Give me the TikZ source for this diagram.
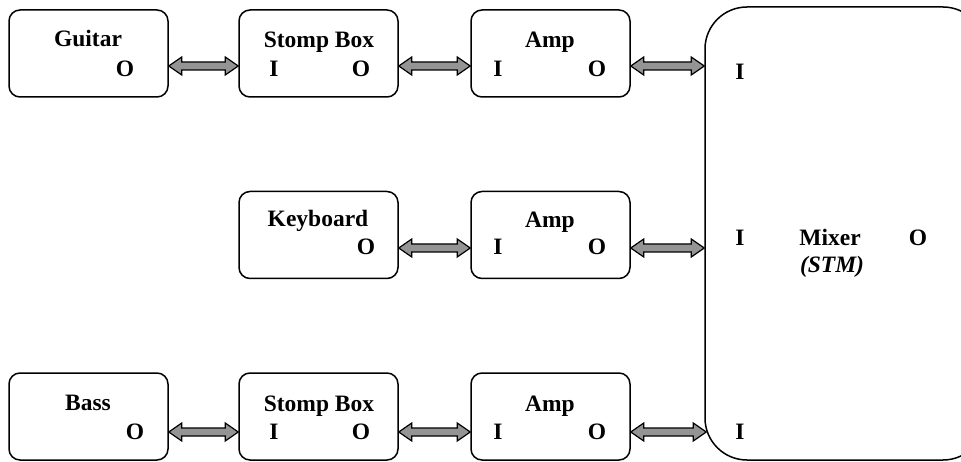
\documentclass[tikz,border=0pt]{standalone}
\usepackage{fontspec}
\setmainfont{Liberation Serif}
\usetikzlibrary{calc}
\tikzset{
  box/.style={draw, line width=1.5pt, rounded corners=11pt, minimum width=159pt, minimum height=87pt, inner sep=0pt},
  mixerbox/.style={draw, line width=1.5pt, rounded corners=42pt, minimum width=280pt, minimum height=453pt, inner sep=0pt},
  lbl/.style={font=\fontsize{23.5}{27}\selectfont\bfseries, inner sep=0pt, anchor=base},
  ilbl/.style={font=\fontsize{23.5}{27}\selectfont\bfseries\itshape, inner sep=0pt, anchor=base},
  fatarr/.style={draw=black, fill=black!42, line width=1.2pt, line join=miter}
}
\newcommand\fatarrow[2]{\draw[fatarr] (#1) -- ++(13,-9) -- ++(0,5) -- ($(#2)+(-13,-4)$) -- ++(0,-5) -- (#2) -- ++(-13,9) -- ++(0,-5) -- ($(#1)+(13,4)$) -- ++(0,5) -- cycle;}
\begin{document}
\begin{tikzpicture}[x=1pt,y=-1pt]
\useasboundingbox (0,0) rectangle (961,462);
\clip (0,0) rectangle (961,462);
% rows
\coordinate (r1) at (0,66);
\coordinate (r2) at (0,248);
\coordinate (r3) at (0,432);
% boxes
\node[box] (guitar) at (88.5,53.5) {};
\node[box] (stompA) at (318.5,53.5) {};
\node[box] (ampA) at (550.5,53.5) {};
\node[box] (keyboard) at (318.5,235) {};
\node[box] (ampB) at (550.5,235) {};
\node[box] (bass) at (88.5,416.5) {};
\node[box] (stompB) at (318.5,416.5) {};
\node[box] (ampC) at (550.5,416.5) {};
\node[mixerbox] (mixer) at (845,233.5) {};
% labels top row
\node[lbl] (tGuitar) at (88,47) {Guitar};
\node[lbl] (tGuitarO) at (125,77) {O};
\node[lbl] (tStompA) at (319,48) {Stomp Box};
\node[lbl] (tStompAI) at (274,77) {I};
\node[lbl] (tStompAO) at (361,77) {O};
\node[lbl] (tAmpA) at (550,48) {Amp};
\node[lbl] (tAmpAI) at (498,77) {I};
\node[lbl] (tAmpAO) at (597,77) {O};
% middle row
\node[lbl] (tKey) at (318,227) {Keyboard};
\node[lbl] (tKeyO) at (366,255) {O};
\node[lbl] (tAmpB) at (550,228) {Amp};
\node[lbl] (tAmpBI) at (498,255) {I};
\node[lbl] (tAmpBO) at (597,255) {O};
% bottom row
\node[lbl] (tBass) at (88,410) {Bass};
\node[lbl] (tBassO) at (135,439) {O};
\node[lbl] (tStompB) at (319,411) {Stomp Box};
\node[lbl] (tStompBI) at (274,439) {I};
\node[lbl] (tStompBO) at (361,439) {O};
\node[lbl] (tAmpC) at (550,411) {Amp};
\node[lbl] (tAmpCI) at (498,439) {I};
\node[lbl] (tAmpCO) at (597,439) {O};
% mixer
\node[lbl] (tMixI1) at (740,80) {I};
\node[lbl] (tMixI2) at (740,246) {I};
\node[lbl] (tMix) at (830,246) {Mixer};
\node[lbl] (tMixO) at (918,246) {O};
\node[ilbl] (tSTM) at (832,273) {(STM)};
\node[lbl] (tMixI3) at (740,439) {I};
% arrow end points
\coordinate (a1) at (guitar.east |- r1);
\coordinate (b1) at (stompA.west |- r1);
\coordinate (a2) at (stompA.east |- r1);
\coordinate (b2) at (ampA.west |- r1);
\coordinate (a3) at (ampA.east |- r1);
\coordinate (b3) at (mixer.west |- r1);
\coordinate (a4) at (keyboard.east |- r2);
\coordinate (b4) at (ampB.west |- r2);
\coordinate (a5) at (ampB.east |- r2);
\coordinate (b5) at (mixer.west |- r2);
\coordinate (a6) at (bass.east |- r3);
\coordinate (b6) at (stompB.west |- r3);
\coordinate (a7) at (stompB.east |- r3);
\coordinate (b7) at (ampC.west |- r3);
\coordinate (a8) at (ampC.east |- r3);
\coordinate (b8) at ($(mixer.west |- r3)+(2,0)$);
\fatarrow{a1}{b1}
\fatarrow{a2}{b2}
\fatarrow{a3}{b3}
\fatarrow{a4}{b4}
\fatarrow{a5}{b5}
\fatarrow{a6}{b6}
\fatarrow{a7}{b7}
\fatarrow{a8}{b8}
\end{tikzpicture}
\end{document}
